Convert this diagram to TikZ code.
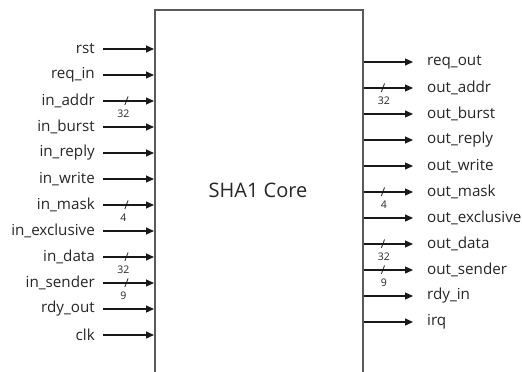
\documentclass[tikz,border=0pt]{standalone}
\usepackage{fontspec}
\setmainfont{Open Sans}
\usepackage{xcolor}
\usetikzlibrary{arrows.meta,positioning}

\definecolor{boxgray}{HTML}{5A5A5A}
\definecolor{txtgray}{HTML}{262626}

\begin{document}
\begin{tikzpicture}[
  x=1pt,y=-1pt,
  core/.style={draw=boxgray,line width=1.8pt,minimum width=208pt,minimum height=380pt,
               inner sep=0pt,anchor=north west},
  title/.style={font=\fontsize{20}{24}\selectfont,text=txtgray},
  inlab/.style={anchor=east,inner xsep=0pt,inner ysep=2pt,font=\fontsize{15.2}{18}\selectfont,text=txtgray},
  outlab/.style={anchor=west,inner xsep=0pt,inner ysep=2pt,font=\fontsize{15.2}{18}\selectfont,text=txtgray},
  ar/.style={-{Triangle[length=8pt,width=7pt]},line width=1.2pt,black!90},
  slash/.style={font=\fontsize{12}{13}\selectfont,inner sep=0pt,text=black!90},
  bw/.style={font=\fontsize{10.5}{12}\selectfont,inner sep=0pt,yshift=-13pt,text=txtgray}
]
\useasboundingbox (0,0) rectangle (522,372);
\clip (0,0) rectangle (522,372);
% the core block, open at the bottom
\node[core] (core) at (154,9) {};
\node[title] (name) at (258,190) {SHA1 Core};
% inputs
\node[inlab] (rst)   at (95,49)  {rst};
\node[inlab] (reqin) at (95,75)  {req\_in};
\node[inlab] (iaddr) at (95,101) {in\_addr};
\node[inlab] (iburst) at (95,127) {in\_burst};
\node[inlab] (ireply) at (95,153) {in\_reply};
\node[inlab] (iwrite) at (95,179) {in\_write};
\node[inlab] (imask) at (95,205) {in\_mask};
\node[inlab] (iexcl) at (95,231) {in\_exclusive};
\node[inlab] (idata) at (95,257) {in\_data};
\node[inlab] (isend) at (95,283) {in\_sender};
\node[inlab] (rdyout) at (95,309) {rdy\_out};
\node[inlab] (clk)   at (95,335) {clk};
\draw[ar] ([xshift=8pt]rst.east) -- (rst.east -| core.west);
\draw[ar] ([xshift=8pt]reqin.east) -- (reqin.east -| core.west);
\draw[ar] ([xshift=8pt]iaddr.east) -- node[slash,pos=0.46]{/} node[bw,pos=0.4]{32} (iaddr.east -| core.west);
\draw[ar] ([xshift=8pt]iburst.east) -- (iburst.east -| core.west);
\draw[ar] ([xshift=8pt]ireply.east) -- (ireply.east -| core.west);
\draw[ar] ([xshift=8pt]iwrite.east) -- (iwrite.east -| core.west);
\draw[ar] ([xshift=8pt]imask.east) -- node[slash,pos=0.46]{/} node[bw,pos=0.4]{4} (imask.east -| core.west);
\draw[ar] ([xshift=8pt]iexcl.east) -- (iexcl.east -| core.west);
\draw[ar] ([xshift=8pt]idata.east) -- node[slash,pos=0.46]{/} node[bw,pos=0.4]{32} (idata.east -| core.west);
\draw[ar] ([xshift=8pt]isend.east) -- node[slash,pos=0.46]{/} node[bw,pos=0.4]{9} (isend.east -| core.west);
\draw[ar] ([xshift=8pt]rdyout.east) -- (rdyout.east -| core.west);
\draw[ar] ([xshift=8pt]clk.east) -- (clk.east -| core.west);
% outputs
\node[outlab] (reqout) at (427,62)  {req\_out};
\node[outlab] (oaddr)  at (427,88)  {out\_addr};
\node[outlab] (oburst) at (427,114) {out\_burst};
\node[outlab] (oreply) at (427,140) {out\_reply};
\node[outlab] (owrite) at (427,166) {out\_write};
\node[outlab] (omask)  at (427,192) {out\_mask};
\node[outlab] (oexcl)  at (427,218) {out\_exclusive};
\node[outlab] (odata)  at (427,244) {out\_data};
\node[outlab] (osend)  at (427,270) {out\_sender};
\node[outlab] (rdyin)  at (427,296) {rdy\_in};
\node[outlab] (irq)    at (427,322) {irq};
\draw[ar] (reqout.west -| core.east) -- ([xshift=-14pt]reqout.west);
\draw[ar] (oaddr.west -| core.east) -- node[slash,pos=0.39]{/} node[bw,pos=0.41]{32} ([xshift=-14pt]oaddr.west);
\draw[ar] (oburst.west -| core.east) -- ([xshift=-14pt]oburst.west);
\draw[ar] (oreply.west -| core.east) -- ([xshift=-14pt]oreply.west);
\draw[ar] (owrite.west -| core.east) -- ([xshift=-14pt]owrite.west);
\draw[ar] (omask.west -| core.east) -- node[slash,pos=0.39]{/} node[bw,pos=0.41]{4} ([xshift=-14pt]omask.west);
\draw[ar] (oexcl.west -| core.east) -- ([xshift=-14pt]oexcl.west);
\draw[ar] (odata.west -| core.east) -- node[slash,pos=0.39]{/} node[bw,pos=0.41]{32} ([xshift=-14pt]odata.west);
\draw[ar] (osend.west -| core.east) -- node[slash,pos=0.39]{/} node[bw,pos=0.41]{9} ([xshift=-14pt]osend.west);
\draw[ar] (rdyin.west -| core.east) -- ([xshift=-14pt]rdyin.west);
\draw[ar] (irq.west -| core.east) -- ([xshift=-14pt]irq.west);
\end{tikzpicture}
\end{document}
